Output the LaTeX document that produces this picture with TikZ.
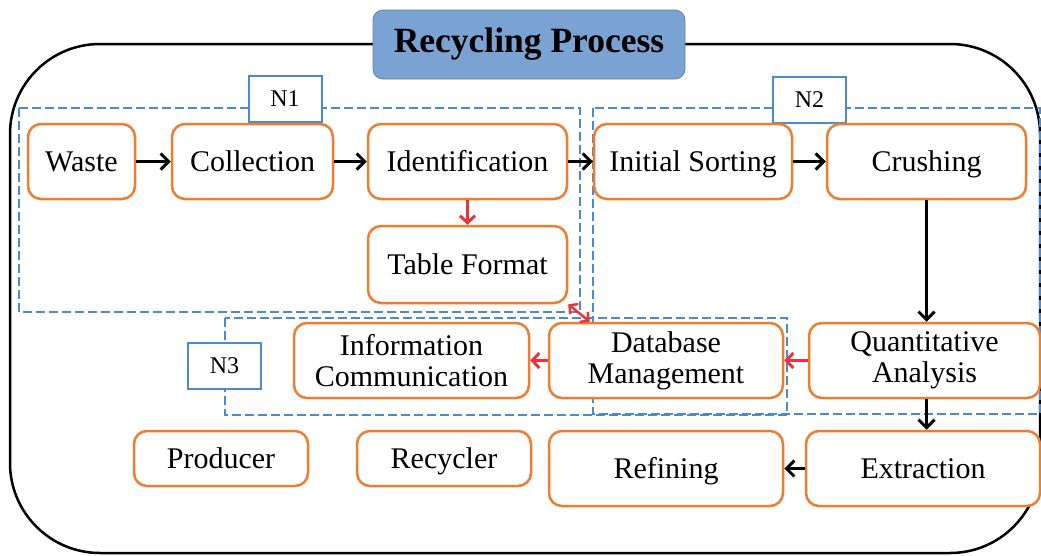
\documentclass[tikz,border=0pt]{standalone}
\usepackage{fontspec}
\setmainfont{Liberation Serif}
\usetikzlibrary{arrows.meta,calc}
\definecolor{boxorange}{RGB}{237,125,49}
\definecolor{grpblue}{RGB}{74,138,208}
\definecolor{titleblue}{RGB}{122,163,212}
\definecolor{arrred}{RGB}{232,52,60}
\tikzset{
  stage/.style={draw=boxorange, line width=2.5pt, rounded corners=13pt, fill=white,
    font=\fontsize{30}{31}\selectfont, align=center, inner sep=0pt},
  oneline/.style={text height=20pt, text depth=0pt},
  tagbox/.style={draw=grpblue, line width=2pt, fill=white, minimum width=73pt,
    minimum height=46pt, font=\fontsize{24}{26}\selectfont, inner sep=0pt},
  groupbox/.style={draw=grpblue, line width=2pt, dash pattern=on 9pt off 4pt},
  flow/.style={draw=black, line width=3pt, -{Straight Barb[length=8pt,width=16pt]}},
  link/.style={draw=arrred, line width=3pt, -{Straight Barb[length=7pt,width=15pt]}},
}
\begin{document}
\begin{tikzpicture}[x=1pt,y=-1pt]
\useasboundingbox (0,0) rectangle (1041,555);

% outer frame and title
\draw[line width=2.5pt, rounded corners=90pt] (10,44) rectangle (1040,553);
\node[fill=titleblue, draw=titleblue!80!black, line width=0.8pt, rounded corners=10pt,
  minimum width=312pt, minimum height=69pt, inner sep=0pt,
  font=\fontsize{35.5}{37}\selectfont\bfseries] (title) at (529,44.5) {Recycling Process};

% dashed groups
\draw[groupbox] (19,108) rectangle (580,312);
\draw[groupbox] (593,108) rectangle (1040,414);
\draw[groupbox] (225,318) rectangle (787,415);

% group tags
\node[tagbox] (n1) at (285,98.5) {N1};
\node[tagbox] (n2) at (809.5,100) {N2};
\node[tagbox] (n3) at (224.5,366) {N3};

% process stages
\node[stage, oneline, minimum width=107pt, minimum height=75pt] (waste) at (81.5,161.5) {Waste};
\node[stage, oneline, minimum width=161pt, minimum height=75pt] (coll) at (252.5,161.5) {Collection};
\node[stage, oneline, minimum width=199pt, minimum height=75pt] (ident) at (467.5,161.5) {Identification};
\node[stage, oneline, minimum width=198pt, minimum height=75pt] (sort) at (693,161.5) {Initial Sorting};
\node[stage, oneline, minimum width=199pt, minimum height=75pt] (crush) at (926.5,161.5) {Crushing};
\node[stage, oneline, minimum width=199pt, minimum height=77pt] (tab) at (467.5,264.5) {Table Format};
\node[stage, minimum width=235pt, minimum height=75pt] (info) at (411.5,360.5) {Information\\Communication};
\node[stage, minimum width=234pt, minimum height=75pt] (db) at (666,360.5) {Database\\Management};
\node[stage, minimum width=231pt, minimum height=75pt] (qa) at (924.5,360.5) {Quantitative\\Analysis};
\node[stage, oneline, minimum width=174pt, minimum height=55pt] (prod) at (221,458.5) {Producer};
\node[stage, oneline, minimum width=174pt, minimum height=55pt] (recy) at (444,458.5) {Recycler};
\node[stage, oneline, minimum width=234pt, minimum height=75pt] (ref) at (666,468.5) {Refining};
\node[stage, oneline, minimum width=234pt, minimum height=75pt] (ext) at (923,468.5) {Extraction};

% material flow
\draw[flow] (waste) -- (coll);
\draw[flow] (coll) -- (ident);
\draw[flow] (ident) -- (sort);
\draw[flow] (sort) -- (crush);
\draw[flow] (crush.south) -- (crush.south |- qa.north);
\draw[flow] (crush.south |- qa.south) -- (crush.south |- ext.north);
\draw[flow] (ext) -- (ref);

% information flow
\draw[link] (ident) -- (tab);
\draw[link] (qa) -- (db);
\draw[link] (db) -- (info);
\draw[link, line width=2.5pt, {Straight Barb[length=6pt,width=13pt]}-{Straight Barb[length=6pt,width=13pt]}]
  (tab.south east) -- ([xshift=42pt]db.north west);
\end{tikzpicture}
\end{document}
